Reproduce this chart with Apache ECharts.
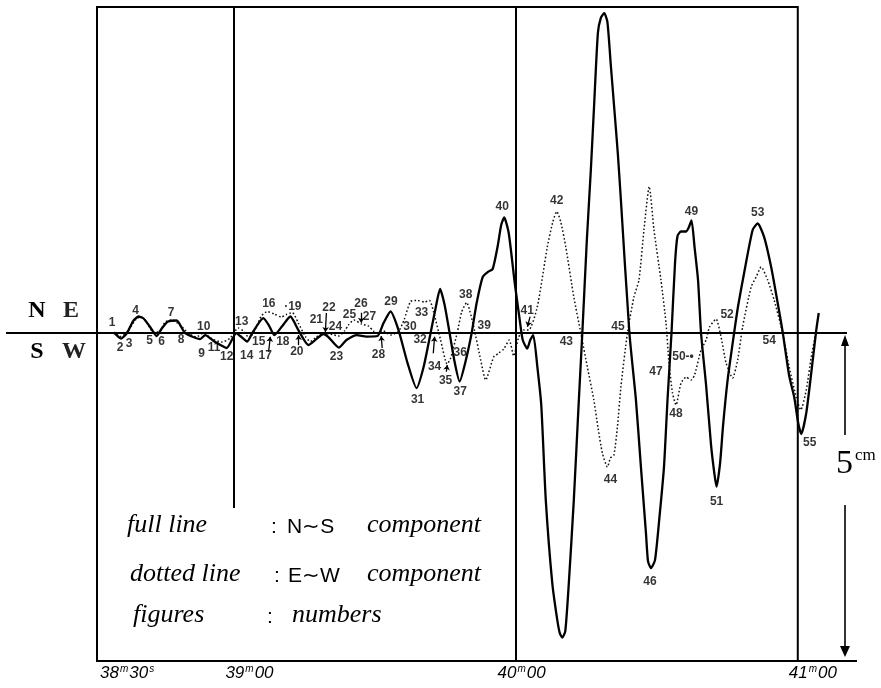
<!DOCTYPE html>
<html><head><meta charset="utf-8">
<script src="https://cdn.jsdelivr.net/npm/echarts@6/dist/echarts.min.js"></script>
<style>html,body{margin:0;padding:0;background:#fff}#c{width:881px;height:688px}</style>
</head><body><div id="c"></div>
<script>
// time: seconds after 38m00s ; amplitude: cm on the record (+ = N / E, - = S / W)
const solidNS = [[34.62,0.01],[36.11,-0.085],[37.39,0],[38.67,0.185],[39.84,0.255],[40.90,0.224],[42.29,0.093],[43.67,-0.046],[44.84,0.077],[46.12,0.177],[47.93,0.193],[49.74,0],[52.94,-0.093],[54.00,-0.031],[56.13,-0.139],[58.58,-0.231],[60.61,0],[61.46,-0.046],[62.95,-0.131],[64.01,0],[66.36,0.231],[67.63,0.108],[68.70,-0.031],[70.40,0.108],[72.11,0.255],[73.81,0.046],[75.94,-0.185],[77.64,-0.093],[79.14,-0.015],[80.20,-0.062],[82.44,-0.224],[84.03,-0.108],[86.27,-0.031],[88.29,-0.054],[90.64,-0.046],[91.92,0.154],[93.41,0.332],[95.11,0.046],[97.03,-0.463],[98.94,-0.849],[100.44,-0.525],[101.93,0],[103.00,0.386],[103.95,0.679],[104.91,0.432],[105.97,0],[107.04,-0.448],[108.10,-0.748],[109.38,-0.432],[110.66,0],[111.72,0.463],[113.00,0.864],[114.07,0.941],[115.13,0.988],[116.20,1.343],[116.94,1.667],[117.58,1.782],[118.54,1.543],[119.82,0.772],[120.88,0.201],[121.52,-0.108],[122.48,-0.239],[123.12,-0.108],[123.76,-0.031],[124.61,-0.509],[125.46,-1.111],[126.42,-2.577],[127.80,-3.858],[128.87,-4.429],[129.40,-4.630],[129.93,-4.699],[130.57,-4.599],[131.32,-3.858],[132.38,-2.577],[133.45,-1.034],[134.19,0],[135.15,1.435],[136.00,2.515],[136.75,3.596],[137.50,4.630],[138.13,4.861],[138.84,4.934],[139.52,4.799],[140.26,4.120],[141.01,3.441],[141.76,2.747],[142.39,2.052],[144.20,0],[145.59,-1.034],[146.65,-2.068],[147.72,-3.086],[148.15,-3.519],[148.78,-3.627],[149.64,-3.503],[150.59,-2.840],[151.55,-2.068],[152.30,-1.034],[153.15,0],[153.90,1.080],[154.43,1.497],[155.17,1.566],[156.24,1.566],[156.77,1.620],[157.41,1.736],[158.05,1.327],[158.79,0.818],[159.43,0],[160.50,-0.802],[161.56,-1.728],[162.31,-2.191],[162.73,-2.369],[163.48,-2.006],[164.12,-1.420],[165.08,-0.725],[166.46,0],[167.31,0.417],[168.59,0.926],[170.40,1.590],[171.47,1.690],[172.85,1.481],[174.34,1.019],[175.73,0.463],[176.79,0.015],[178.18,-0.664],[179.24,-0.988],[180.09,-1.389],[180.73,-1.559],[181.80,-1.235],[182.86,-0.617],[183.93,0.046],[184.46,0.309]];

const dottedEW = [[34.41,0],[36.11,-0.054],[37.60,0.031],[39.31,0.216],[40.37,0.247],[41.44,0.185],[42.93,0.015],[44.21,0.015],[45.48,0.170],[46.97,0.201],[48.68,0.123],[50.38,0],[52.09,-0.062],[53.58,0],[55.49,-0.093],[57.62,-0.139],[59.33,-0.077],[61.03,0.077],[62.10,0.031],[63.37,-0.077],[64.87,0.093],[65.93,0.262],[67.21,0.332],[68.70,0.293],[70.19,0.247],[71.26,0.285],[72.53,0.316],[73.81,0.154],[75.30,-0.054],[76.37,-0.131],[77.64,-0.062],[78.92,0],[80.63,-0.015],[82.33,-0.046],[83.61,0.031],[84.46,0.123],[85.63,0.201],[87.23,0.139],[88.72,0.108],[89.79,0.031],[90.85,0],[91.92,0.031],[93.41,-0.031],[95.11,0.023],[96.28,0.201],[97.67,0.486],[99.16,0.502],[100.65,0.478],[101.71,0.502],[102.57,0.324],[104.06,-0.108],[105.44,-0.478],[106.19,-0.386],[107.57,0],[108.53,0.324],[109.59,0.471],[111.08,0.100],[112.58,-0.417],[113.64,-0.725],[115.34,-0.370],[116.41,-0.309],[117.47,-0.247],[118.65,-0.108],[119.60,-0.355],[120.67,-0.062],[121.73,0.046],[122.80,0.046],[124.61,0.401],[126.74,1.327],[127.91,1.713],[128.76,1.875],[129.61,1.713],[130.68,1.327],[132.38,0.556],[133.87,0],[135.26,-0.525],[136.64,-1.034],[137.50,-1.451],[138.45,-1.852],[139.52,-2.068],[140.16,-1.929],[140.90,-1.883],[141.65,-1.451],[142.39,-0.833],[143.78,0],[145.16,0.556],[146.23,0.818],[147.29,1.590],[148.42,2.261],[149.42,1.590],[150.91,0.818],[151.98,0.154],[152.62,-0.463],[153.36,-0.926],[154.11,-1.111],[155.17,-0.772],[156.24,-0.679],[157.30,-0.725],[158.05,-0.648],[159.43,-0.262],[160.50,-0.108],[161.24,0.093],[162.63,0.216],[163.69,-0.062],[164.76,-0.463],[166.14,-0.694],[167.21,-0.417],[168.27,0.093],[170.08,0.710],[171.15,0.864],[172.21,1.019],[173.60,0.818],[174.98,0.509],[176.79,0],[178.18,-0.525],[179.67,-0.988],[180.63,-1.188],[181.80,-0.880],[182.86,-0.370],[183.71,-0.046]];

const figureLabels = [[34.19,0.154,'1'],[35.90,-0.231,'2'],[37.82,-0.170,'3'],[39.20,0.347,'4'],[42.18,-0.116,'5'],[44.74,-0.131,'6'],[46.76,0.316,'7'],[48.89,-0.108,'8'],[53.26,-0.324,'9'],[53.68,0.100,'10'],[55.92,-0.224,'11'],[58.58,-0.370,'12'],[61.78,0.177,'13'],[62.84,-0.355,'14'],[65.40,-0.131,'15'],[67.53,0.448,'16'],[66.78,-0.355,'17'],[70.51,-0.131,'18'],[72.64,0.409,'·19'],[73.49,-0.285,'20'],[77.64,0.208,'21'],[80.31,0.394,'22'],[81.90,-0.370,'23'],[81.69,0.093,'24'],[84.67,0.278,'25'],[87.12,0.448,'26'],[88.93,0.247,'27'],[90.85,-0.340,'28'],[93.51,0.478,'29'],[97.56,0.100,'30'],[99.16,-1.026,'31'],[99.69,-0.100,'32'],[100.01,0.316,'33'],[102.78,-0.517,'34'],[105.12,-0.733,'35'],[108.21,-0.301,'36'],[108.21,-0.910,'37'],[109.38,0.586,'38'],[113.32,0.116,'39'],[117.15,1.952,'40'],[122.48,0.347,'41'],[128.76,2.045,'42'],[130.79,-0.131,'43'],[140.16,-2.261,'44'],[141.76,0.100,'45'],[148.57,-3.835,'46'],[149.85,-0.594,'47'],[154.11,-1.250,'48'],[157.41,1.875,'49'],[155.60,-0.363,'50-•'],[162.73,-2.600,'51'],[164.97,0.278,'52'],[171.47,1.852,'53'],[173.92,-0.116,'54'],[182.54,-1.698,'55']];

// small pointer strokes drawn from a figure to the trace: [t1, y1, t2, y2]
const figurePointers = [[67.49,-0.289,67.85,-0.057],[73.88,-0.185,73.88,-0.031],[79.77,0.309,79.56,0.015],[87.17,0.313,87.17,0.159],[91.64,-0.231,91.43,-0.046],[102.50,-0.313,102.78,-0.057],[105.27,-0.597,105.48,-0.494],[123.08,0.252,122.52,0.097]];

const tickValues = [31, 60, 120, 180];
const tickLabels = [['38','30','s'], ['39','00',''], ['40','00',''], ['41','00','']];
const minuteMarks = [[60, -2.70], [120, -5.06]];   // [time, lower end of drawn line]
const frameStart = 31, frameEnd = 180;
const yTop = 5.03, yBottom = -5.06;

const chart = echarts.init(document.getElementById('c'), null, {renderer: 'canvas'});
chart.setOption({
  animation: false,
  backgroundColor: '#fff',
  grid: {left: 97, right: 55, top: 7, bottom: 27, show: false},
  xAxis: {type: 'value', min: 31, max: 186, axisLine: {show: false}, axisTick: {show: false}, axisLabel: {show: false}, splitLine: {show: false}},
  yAxis: {type: 'value', min: yBottom, max: yTop, axisLine: {show: false}, axisTick: {show: false}, axisLabel: {show: false}, splitLine: {show: false}},
  series: [
    {
      name: 'E~W component', type: 'line', data: dottedEW, symbol: 'none', smooth: 0.2, clip: false,
      lineStyle: {color: '#111', width: 1.5, type: [1.6, 2.2]}, z: 2
    },
    {
      name: 'N~S component', type: 'line', data: solidNS, symbol: 'none', smooth: 0.2, clip: false,
      lineStyle: {color: '#000', width: 2.3}, z: 3,
      markLine: {
        silent: true, symbol: 'none', label: {show: false},
        lineStyle: {color: '#000', width: 2, type: 'solid'},
        data: minuteMarks.map(m => [{coord: [m[0], yTop]}, {coord: [m[0], m[1]]}])
      }
    },
    {
      name: 'figures', type: 'scatter', clip: false, symbolSize: 1, itemStyle: {color: 'rgba(0,0,0,0)'},
      data: figureLabels.map(d => ({value: [d[0], d[1]], name: d[2]})),
      label: {show: true, position: 'inside', formatter: p => p.name, color: '#000',
        fontFamily: 'Liberation Sans, Arial, sans-serif', fontWeight: 'bold', fontSize: 12},
      markLine: {
        silent: true, symbol: ['none', 'arrow'], symbolSize: 5, label: {show: false},
        lineStyle: {color: '#000', width: 1.3, type: 'solid'},
        data: figurePointers.map(a => [{coord: [a[0], a[1]]}, {coord: [a[2], a[3]]}])
      },
      z: 4
    }
  ]
});

function px(t, y) { return chart.convertToPixel({gridIndex: 0}, [t, y]); }
const pTL = px(frameStart, yTop), pBR = px(frameEnd, yBottom);
const p0 = px(frameStart, 0), p5 = px(frameEnd, -5);
const y0 = p0[1], yb = pBR[1], y5 = p5[1];
const ax = 845;
const g = [];
// frame
g.push({type: 'rect', shape: {x: pTL[0], y: pTL[1], width: pBR[0] - pTL[0], height: pBR[1] - pTL[1]}, style: {fill: 'none', stroke: '#000', lineWidth: 2}, z: 5});
// baseline (extends beyond the frame)
g.push({type: 'line', shape: {x1: 6, y1: y0, x2: ax + 2, y2: y0}, style: {stroke: '#000', lineWidth: 2}, z: 5});
// bottom line extension
g.push({type: 'line', shape: {x1: pBR[0], y1: yb, x2: 857, y2: yb}, style: {stroke: '#000', lineWidth: 2}, z: 5});
// 5 cm scale arrows
g.push({type: 'line', shape: {x1: ax, y1: y0 + 6, x2: ax, y2: y0 + 102}, style: {stroke: '#000', lineWidth: 1.6}, z: 5});
g.push({type: 'polygon', shape: {points: [[ax, y0 + 2], [ax - 4, y0 + 13], [ax + 4, y0 + 13]]}, style: {fill: '#000'}, z: 5});
g.push({type: 'line', shape: {x1: ax, y1: y0 + 172, x2: ax, y2: y5 - 6}, style: {stroke: '#000', lineWidth: 1.6}, z: 5});
g.push({type: 'polygon', shape: {points: [[ax, y5], [ax - 5, y5 - 11], [ax + 5, y5 - 11]]}, style: {fill: '#000'}, z: 5});
g.push({type: 'text', x: 836, y: y0 + 131, style: {text: '5', font: '34px "Liberation Serif", serif', fill: '#000', verticalAlign: 'middle'}, z: 5});
g.push({type: 'text', x: 855, y: y0 + 123, style: {text: 'cm', font: '17px "Liberation Serif", serif', fill: '#000', verticalAlign: 'middle'}, z: 5});
// N E / S W
const big = 'bold 24px "Liberation Serif", serif';
g.push({type: 'text', x: 37, y: y0 - 22, style: {text: 'N', font: big, fill: '#000', align: 'center', verticalAlign: 'middle'}, z: 5});
g.push({type: 'text', x: 37, y: y0 + 19, style: {text: 'S', font: big, fill: '#000', align: 'center', verticalAlign: 'middle'}, z: 5});
g.push({type: 'text', x: 71, y: y0 - 22, style: {text: 'E', font: big, fill: '#222', stroke: '#fff', lineWidth: 1.4, lineDash: [1.5, 1.5], align: 'center', verticalAlign: 'middle'}, z: 5});
g.push({type: 'text', x: 74, y: y0 + 19, style: {text: 'W', font: big, fill: '#222', stroke: '#fff', lineWidth: 1.4, lineDash: [1.5, 1.5], align: 'center', verticalAlign: 'middle'}, z: 5});
// time labels
const shift = [3, -8, -18, -9];
tickValues.forEach((v, i) => {
  const p = px(v, yBottom);
  const L = tickLabels[i];
  g.push({type: 'text', x: p[0] + shift[i], y: p[1] + 12, z: 5, style: {
    text: '{n|' + L[0] + '}{s|m}{n|' + L[1] + '}' + (L[2] ? '{s|' + L[2] + '}' : ''),
    verticalAlign: 'middle',
    rich: {
      n: {font: 'italic 17px "Liberation Sans", sans-serif', fill: '#000', verticalAlign: 'bottom'},
      s: {font: 'italic 10px "Liberation Sans", sans-serif', fill: '#000', verticalAlign: 'top', padding: [0, 1, 8, 1]}
    }
  }});
});
// handwritten legend
const hand = 'italic 26px "Liberation Serif", serif';
const plain = '21px "Liberation Sans", sans-serif';
const legendRows = [
  [[127, 'full line', hand], [271, ':', plain], [287, 'N∼S', plain], [367, 'component', hand]],
  [[130, 'dotted line', hand], [274, ':', plain], [288, 'E∼W', plain], [367, 'component', hand]],
  [[133, 'figures', hand], [267, ':', plain], [292, 'numbers', hand]]
];
const rowBase = [538, 587, 628];
legendRows.forEach((row, r) => row.forEach(c => {
  g.push({type: 'text', x: c[0], y: rowBase[r], z: 5, style: {text: c[1], font: c[2], fill: '#000', verticalAlign: 'bottom'}});
}));
chart.setOption({graphic: g});
</script>
</body></html>
